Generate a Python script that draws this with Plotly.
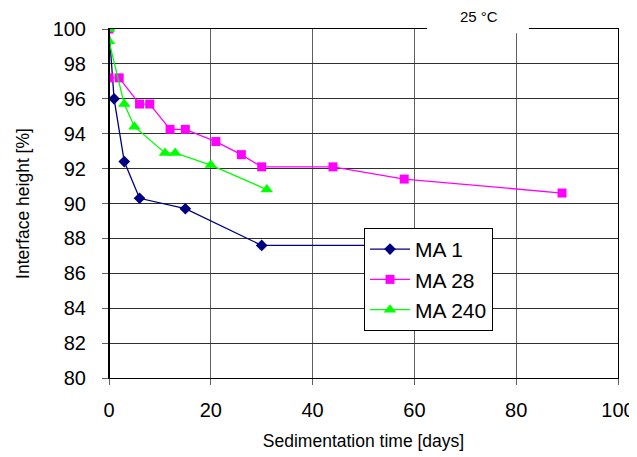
import plotly.graph_objects as go

ma1_x = [0, 1, 3, 6, 15, 30, 58]
ma1_y = [100, 96.0, 92.4, 90.3, 89.7, 87.6, 87.6]
ma28_x = [0, 0, 2, 6, 8, 12, 15, 21, 26, 30, 44, 58, 89]
ma28_y = [100, 97.2, 97.2, 95.7, 95.7, 94.25, 94.25, 93.55, 92.8, 92.1, 92.1, 91.4, 90.6]
ma240_x = [0, 0, 3, 5, 11, 13, 20, 31]
ma240_y = [100, 99.3, 95.7, 94.4, 92.9, 92.9, 92.2, 90.8]

FONT = "Liberation Sans, Arial, sans-serif"

fig = go.Figure()
fig.add_trace(go.Scatter(x=ma1_x, y=ma1_y, name="MA 1", mode="lines+markers",
                         line=dict(color="#000080", width=1.3),
                         marker=dict(symbol="diamond", size=9, color="#000080")))
fig.add_trace(go.Scatter(x=ma28_x, y=ma28_y, name="MA 28", mode="lines+markers",
                         line=dict(color="#FF00FF", width=1.3),
                         marker=dict(symbol="square", size=9, color="#FF00FF")))
fig.add_trace(go.Scatter(x=ma240_x, y=ma240_y, name="MA 240", mode="lines+markers",
                         line=dict(color="#00FF00", width=1.3),
                         marker=dict(symbol="triangle-up", size=11, color="#00FF00")))

fig.update_layout(
    width=629, height=449,
    margin=dict(l=101, r=19, t=21, b=79),
    paper_bgcolor="white", plot_bgcolor="white",
    font=dict(family=FONT, color="black", size=17),
    showlegend=True,
    legend=dict(x=0.501, y=0.43, xanchor="left", yanchor="top",
                bordercolor="black", borderwidth=1, bgcolor="white",
                font=dict(size=21), tracegroupgap=0, itemwidth=40),
    xaxis=dict(range=[0, 100], tickvals=[0, 20, 40, 60, 80, 100],
               showgrid=True, gridcolor="#606060", gridwidth=1,
               showline=True, linecolor="black", linewidth=1, mirror=True,
               ticks="outside", ticklen=6, tickcolor="#606060",
               ticklabelstandoff=8,
               zeroline=False, tickfont=dict(size=20), automargin=False,
               title=dict(text="Sedimentation time [days]", font=dict(size=17.5), standoff=14)),
    yaxis=dict(range=[80, 100], dtick=2,
               showgrid=True, gridcolor="#303030", gridwidth=1,
               showline=True, linecolor="black", linewidth=1, mirror=True,
               ticks="outside", ticklen=6, tickcolor="#606060",
               ticklabelstandoff=12,
               zeroline=False, tickfont=dict(size=20), automargin=False,
               title=dict(text="Interface height [%]", font=dict(size=17.5), standoff=18)),
)

fig.add_shape(type="line", xref="x", yref="paper", x0=0, x1=0, y0=0, y1=1,
              line=dict(color="black", width=2), layer="above")
fig.add_shape(type="rect", xref="paper", yref="paper", x0=0.625, x1=0.825,
              y0=0.988, y1=1.08, fillcolor="white", line=dict(width=0), layer="above")
fig.add_annotation(text="25 °C", xref="paper", yref="paper", x=0.727, y=1.037,
                   yanchor="middle", xanchor="center",
                   showarrow=False, font=dict(size=15, family=FONT))

fig.write_html("out.html")
